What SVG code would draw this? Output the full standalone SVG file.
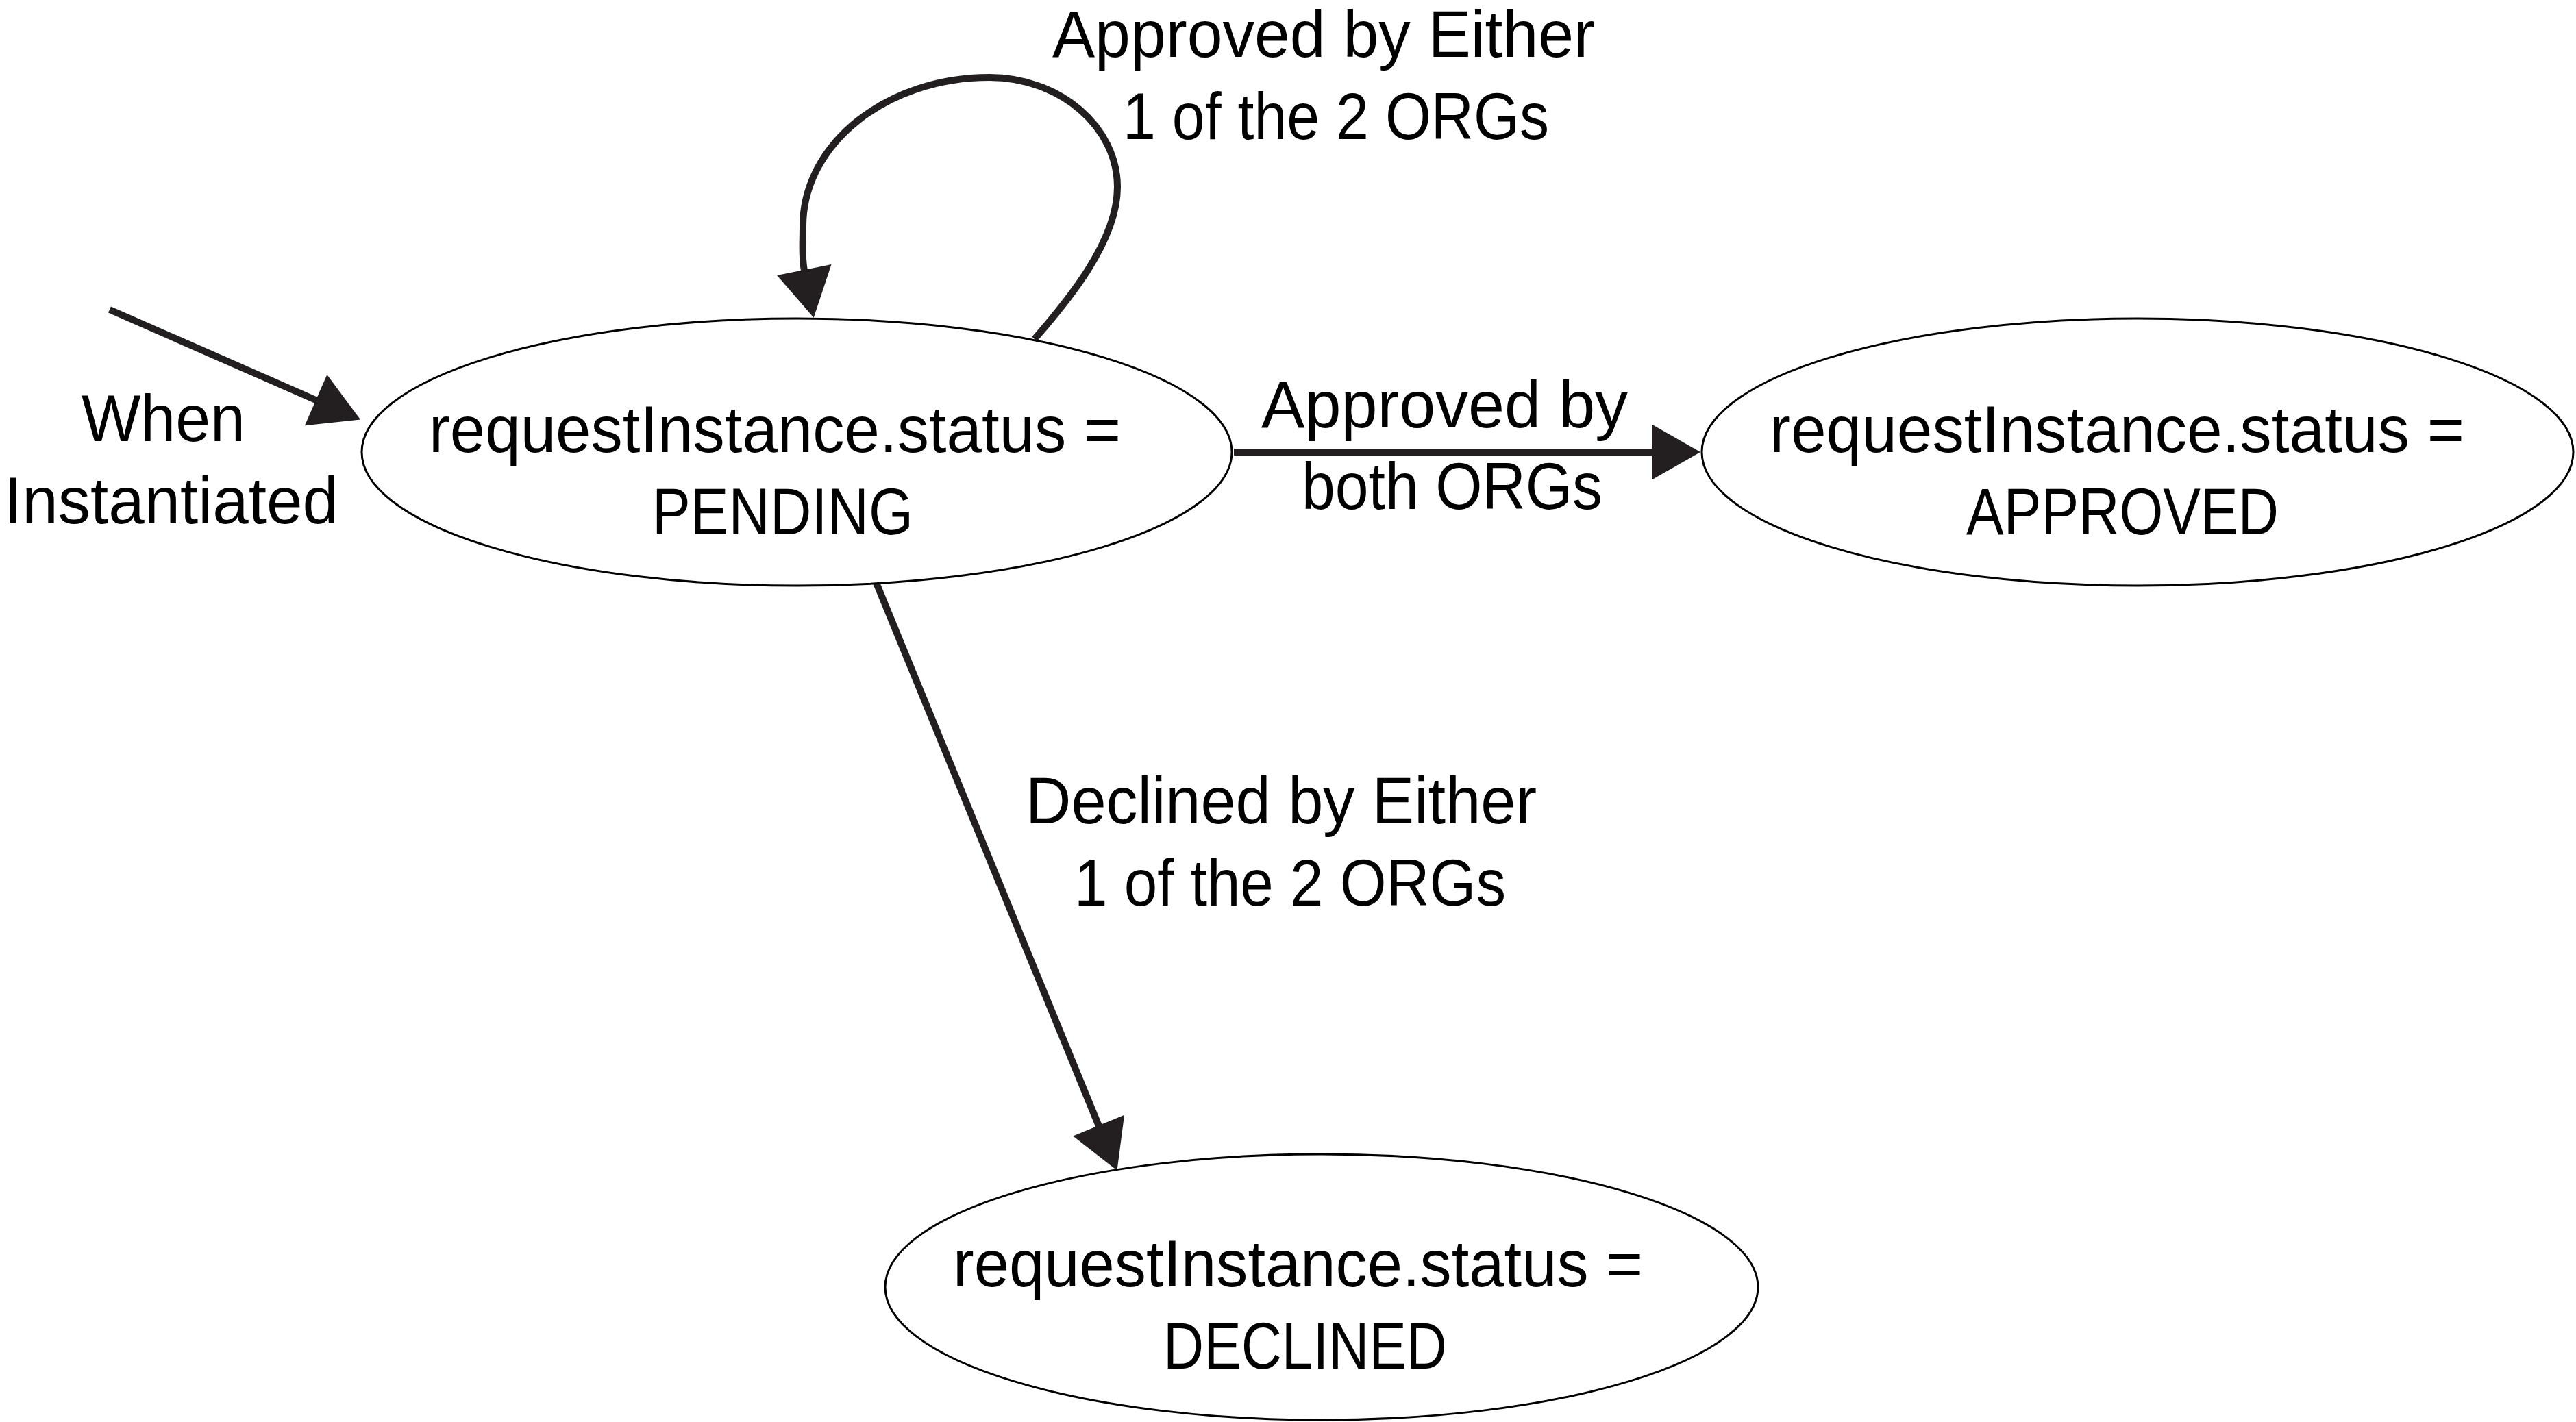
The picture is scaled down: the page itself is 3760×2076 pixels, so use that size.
<svg xmlns="http://www.w3.org/2000/svg" width="3760" height="2076" viewBox="0 0 3760 2076">
<style>
.node ellipse{fill:#fff;stroke:#000;stroke-width:3}
text{font-family:"Liberation Sans",Arial,sans-serif;font-size:96px;fill:#000}
.edge{fill:none;stroke:#231f20;stroke-width:10}
</style>
<defs>
<marker id="arrow" markerUnits="userSpaceOnUse" markerWidth="80" markerHeight="90" viewBox="0 -45 80 90" refX="1" refY="0" orient="auto" overflow="visible">
<path d="M0,-40.5 L71,0 L0,40.5 z" fill="#231f20"/>
</marker>
</defs>
<rect width="3760" height="2076" fill="#fff"/>
<g id="connectors">
<path class="edge" d="M160,452 L462,584.5" marker-end="url(#arrow)"/>
<path class="edge" d="M1801,660 L2412,660" marker-end="url(#arrow)"/>
<path class="edge" d="M1277,846 L1604,1644" marker-end="url(#arrow)"/>
<path class="edge" d="M1510,495 C1557,441 1631,353 1631,273 C1631,185 1547,113 1444,113 C1294,113 1172,210 1172,330 C1172,355 1170,375 1174,395" marker-end="url(#arrow)"/>
</g>
<g id="edge-labels">
<text x="119" y="644" textLength="239" lengthAdjust="spacingAndGlyphs">When</text>
<text x="6" y="764" textLength="488" lengthAdjust="spacingAndGlyphs">Instantiated</text>
<text x="1536" y="83" textLength="792" lengthAdjust="spacingAndGlyphs">Approved by Either</text>
<text x="1639" y="203" textLength="622" lengthAdjust="spacingAndGlyphs">1 of the 2 ORGs</text>
<text x="1841" y="624" textLength="535" lengthAdjust="spacingAndGlyphs">Approved by</text>
<text x="1900" y="743" textLength="439" lengthAdjust="spacingAndGlyphs">both ORGs</text>
<text x="1497" y="1202" textLength="746" lengthAdjust="spacingAndGlyphs">Declined by Either</text>
<text x="1568" y="1322" textLength="630" lengthAdjust="spacingAndGlyphs">1 of the 2 ORGs</text>
</g>
<g id="pending" class="node">
<ellipse cx="1163" cy="660" rx="635" ry="195"/>
<text x="626" y="660" textLength="1010" lengthAdjust="spacingAndGlyphs">requestInstance.status =</text>
<text x="952" y="780" textLength="381" lengthAdjust="spacingAndGlyphs">PENDING</text>
</g>
<g id="approved" class="node">
<ellipse cx="3120" cy="660" rx="636" ry="195"/>
<text x="2583" y="660" textLength="1014" lengthAdjust="spacingAndGlyphs">requestInstance.status =</text>
<text x="2870" y="780" textLength="456" lengthAdjust="spacingAndGlyphs">APPROVED</text>
</g>
<g id="declined" class="node">
<ellipse cx="1929" cy="1879" rx="637" ry="194"/>
<text x="1391" y="1878" textLength="1007" lengthAdjust="spacingAndGlyphs">requestInstance.status =</text>
<text x="1698" y="1998" textLength="414" lengthAdjust="spacingAndGlyphs">DECLINED</text>
</g>
</svg>
